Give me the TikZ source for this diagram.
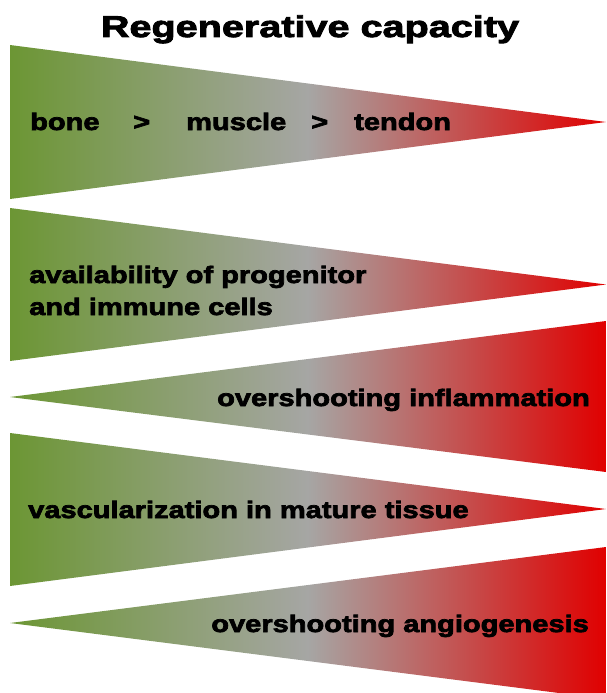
\documentclass[tikz,border=0pt]{standalone}
\usepackage{fontspec}
\newfontfamily\bodyfont{Liberation Sans}[FakeStretch=1.225,BoldFeatures={FakeBold=3}]
\newfontfamily\titlefont{Liberation Sans}[FakeStretch=1.32,BoldFeatures={FakeBold=3}]
\definecolor{mygreen}{RGB}{108,150,52}
\definecolor{mygray}{RGB}{166,166,164}
\definecolor{myred}{RGB}{224,0,0}
\tikzset{
  grad/.style={left color=mygreen, right color=myred, middle color=mygray, draw=none},
  lbl/.style={inner sep=0pt, font=\bodyfont\bfseries\fontsize{23.7}{32}\selectfont, text=black},
  ttl/.style={inner sep=0pt, font=\titlefont\bfseries\fontsize{30}{36}\selectfont, text=black}
}
\begin{document}
\begin{tikzpicture}[x=1pt,y=-1pt]
\useasboundingbox (0,0) rectangle (606,693);
\begin{scope}
\clip (0,0) rectangle (606,693);
\path[grad] (10,45) -- (606,122) -- (10,199) -- cycle;
\path[grad] (10,208) -- (606,284.5) -- (10,361) -- cycle;
\path[grad] (10,397) -- (606,321) -- (606,472) -- cycle;
\path[grad] (10,433) -- (606,509) -- (10,586) -- cycle;
\path[grad] (10,623) -- (606,547) -- (606,699) -- cycle;
\end{scope}
\node[ttl, anchor=base] (title) at (310,37) {Regenerative capacity};
\node[lbl, anchor=base west] (bone) at (30,130) {bone};
\node[lbl, anchor=base west] (gt1) at (133,130) {>};
\node[lbl, anchor=base west] (muscle) at (186,130) {muscle};
\node[lbl, anchor=base west] (gt2) at (311,130) {>};
\node[lbl, anchor=base west] (tendon) at (354,130) {tendon};
\node[lbl, anchor=base west, align=left] (avail) at (29,315) {availability of progenitor\\and immune cells};
\node[lbl, anchor=base east] (infl) at (590,406) {overshooting inflammation};
\node[lbl, anchor=base west] (vasc) at (28,518) {vascularization in mature tissue};
\node[lbl, anchor=base east] (angio) at (589,632) {overshooting angiogenesis};
\end{tikzpicture}
\end{document}
